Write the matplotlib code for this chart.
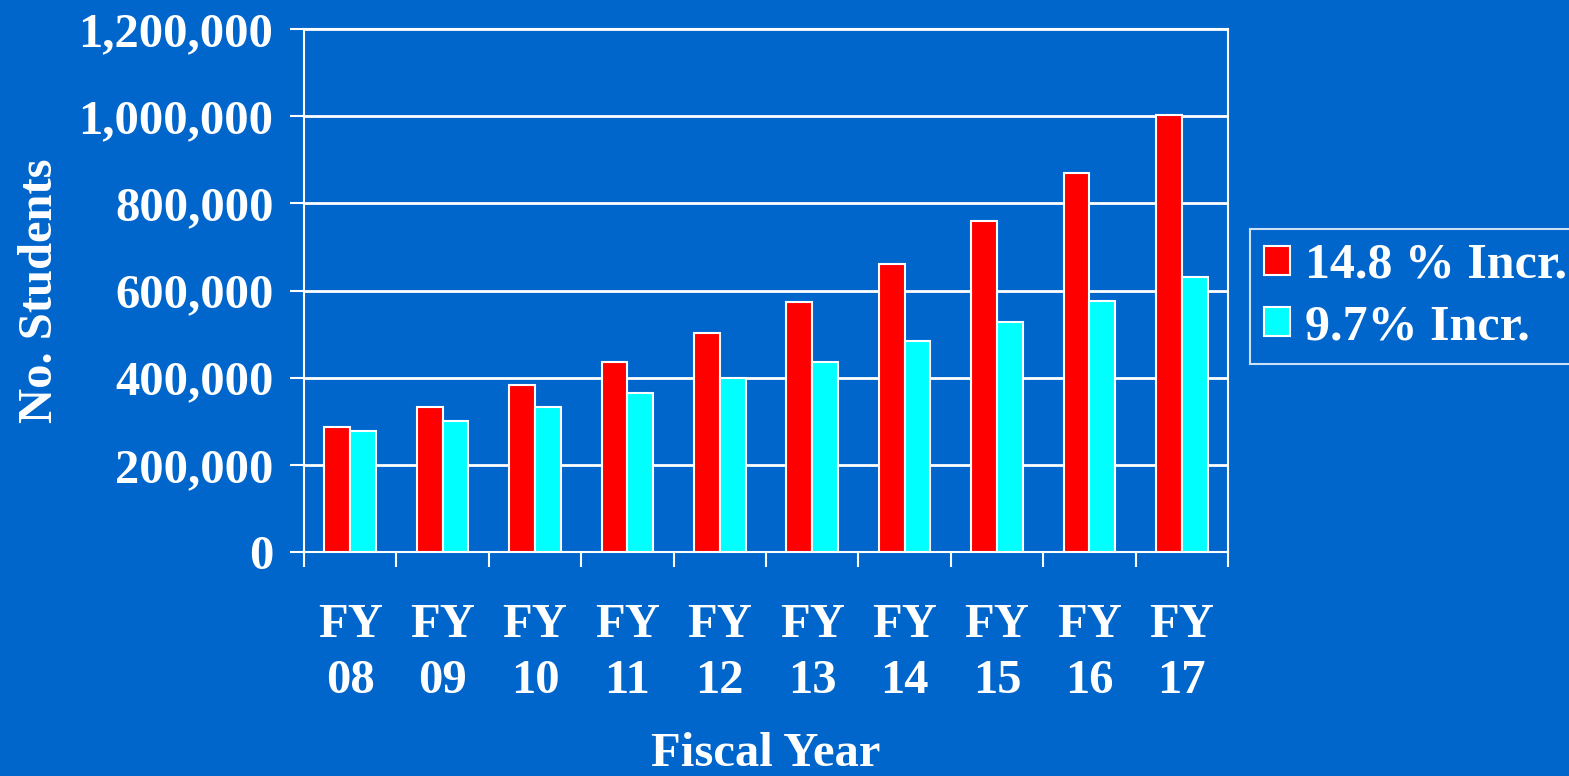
import matplotlib
matplotlib.use("Agg")
import matplotlib.pyplot as plt
import numpy as np

categories = ["FY\n08", "FY\n09", "FY\n10", "FY\n11", "FY\n12", "FY\n13", "FY\n14", "FY\n15", "FY\n16", "FY\n17"]
incr_148 = [287000, 332000, 383000, 437000, 503000, 574000, 660000, 760000, 870000, 1002000]
incr_97 = [278000, 301000, 332000, 364000, 400000, 437000, 483000, 528000, 577000, 632000]
series_names = ["14.8 % Incr.", "9.7% Incr."]
yticks = [0, 200000, 400000, 600000, 800000, 1000000, 1200000]

BG = "#0066CC"
FS = 35
plt.rcParams['font.family'] = ['Liberation Serif', 'DejaVu Serif']
plt.rcParams['font.weight'] = 'bold'

fig = plt.figure(figsize=(15.69, 7.76), dpi=100, facecolor=BG)
ax = fig.add_axes([304/1569, 1-552/776, (1228-304)/1569, (552-29)/776])
ax.set_facecolor(BG)

x = np.arange(len(categories))
w = 0.28
ax.bar(x - w/2, incr_148, w, color="#FF0000", edgecolor="white", linewidth=1.5, label=series_names[0], zorder=3)
ax.bar(x + w/2, incr_97, w, color="#00FFFF", edgecolor="white", linewidth=1.5, label=series_names[1], zorder=3)

ax.set_xlim(-0.5, len(categories)-0.5)
ax.set_ylim(0, 1200000)
ax.set_yticks(yticks)
ax.set_yticklabels([f"{v:,}" for v in yticks])
ax.yaxis.grid(True, color="white", linewidth=2, zorder=1)
ax.set_axisbelow(True)

ax.set_xticks(x)
ax.set_xticklabels(categories, linespacing=1.33)
ax.set_xticks(np.arange(len(categories)+1) - 0.5, minor=True)
ax.tick_params(axis='x', which='major', length=0, pad=37, labelsize=FS, labelcolor='white')
ax.tick_params(axis='x', which='minor', length=11, width=1.5, color='white', direction='out')
ax.tick_params(axis='y', length=10, width=1.5, color='white', direction='out', pad=12, labelsize=FS, labelcolor='white')
for lbl in ax.get_xticklabels() + ax.get_yticklabels():
    lbl.set_fontweight('bold')

for s in ax.spines.values():
    s.set_color("white")
    s.set_linewidth(1.5)

ax.set_xlabel("Fiscal Year", fontsize=FS, fontweight='bold', color='white', labelpad=21)
ax.set_ylabel("No. Students", fontsize=FS, fontweight='bold', color='white', labelpad=12)

leg = fig.legend(loc="upper left", bbox_to_anchor=(1250/1569, 1-229/776), frameon=True,
                 fontsize=36, handlelength=0.52, handleheight=0.52, handletextpad=0.3,
                 borderpad=0.28, labelspacing=0.3, borderaxespad=0, fancybox=False)
leg.get_frame().set_facecolor(BG)
leg.get_frame().set_edgecolor("white")
leg.get_frame().set_linewidth(1.5)
for t in leg.get_texts():
    t.set_color("white")
    t.set_fontweight('bold')

fig.savefig("out.png", dpi=100, facecolor=BG)
